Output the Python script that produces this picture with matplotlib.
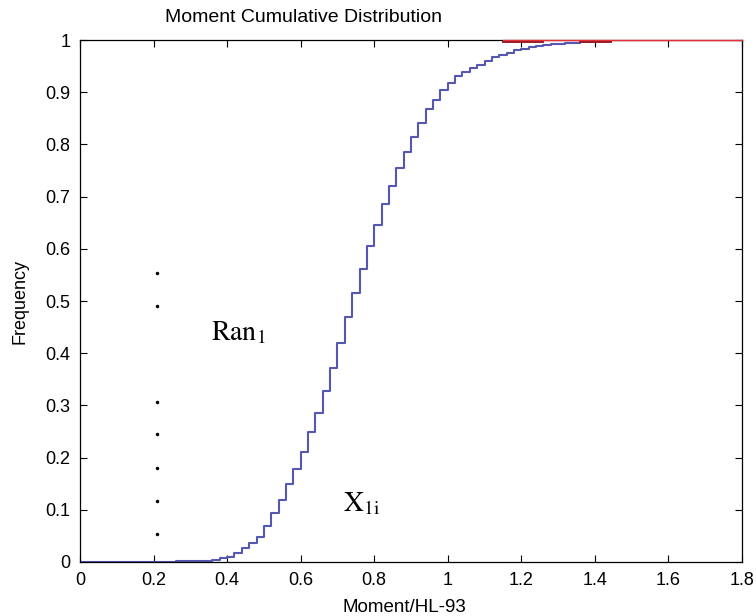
import matplotlib.pyplot as plt

plt.rcParams['font.family'] = ['Liberation Sans', 'DejaVu Sans']
plt.rcParams['mathtext.fontset'] = 'stix'

moment = [0.00, 0.26, 0.36, 0.38, 0.40, 0.42, 0.44, 0.46, 0.48, 0.50,
          0.52, 0.54, 0.56, 0.58, 0.60, 0.62, 0.64, 0.66, 0.68, 0.70,
          0.72, 0.74, 0.76, 0.78, 0.80, 0.82, 0.84, 0.86, 0.88, 0.90,
          0.92, 0.94, 0.96, 0.98, 1.00, 1.02, 1.04, 1.06, 1.08, 1.10,
          1.12, 1.14, 1.16, 1.18, 1.20, 1.22, 1.24, 1.26, 1.28, 1.30,
          1.32, 1.34, 1.36, 1.38, 1.40, 1.42, 1.44, 1.80]
freq = [0.000, 0.002, 0.004, 0.007, 0.010, 0.017, 0.026, 0.037, 0.048, 0.069,
        0.093, 0.119, 0.149, 0.178, 0.210, 0.249, 0.286, 0.328, 0.371, 0.419,
        0.470, 0.516, 0.562, 0.606, 0.646, 0.686, 0.720, 0.754, 0.786, 0.815,
        0.842, 0.867, 0.886, 0.904, 0.918, 0.931, 0.939, 0.946, 0.953, 0.960,
        0.967, 0.971, 0.976, 0.980, 0.983, 0.986, 0.989, 0.990, 0.992, 0.993,
        0.994, 0.995, 0.996, 0.997, 0.998, 0.998, 1.000, 1.000]

# red reference line at the top
red_x = [1.15, 1.80]
red_y = [1.0, 1.0]
dark_x1 = [1.15, 1.26]
dark_x2 = [1.36, 1.445]
dark_y = [0.997, 0.997]

# vertical ellipsis dots
dot_x = [0.21] * 7
dot_y = [0.554, 0.490, 0.307, 0.245, 0.180, 0.117, 0.054]

xticks = [0, 0.2, 0.4, 0.6, 0.8, 1, 1.2, 1.4, 1.6, 1.8]
xtick_labels = ['0', '0.2', '0.4', '0.6', '0.8', '1', '1.2', '1.4', '1.6', '1.8']
yticks = [0, 0.1, 0.2, 0.3, 0.4, 0.5, 0.6, 0.7, 0.8, 0.9, 1]
ytick_labels = ['0', '0.1', '0.2', '0.3', '0.4', '0.5', '0.6', '0.7', '0.8', '0.9', '1']

fig = plt.figure(figsize=(7.56, 6.16), dpi=100)
ax = fig.add_axes([0.1058, 0.0877, 0.8757, 0.8473])

ax.step(moment, freq, where='post', color='#5558b0', lw=1.5)
ax.plot(red_x, red_y, color='#e8323a', lw=1.0, zorder=3, clip_on=False)
ax.plot(dark_x1, dark_y, color='#9a1c28', lw=1.4, zorder=3)
ax.plot(dark_x2, dark_y, color='#9a1c28', lw=1.4, zorder=3)
ax.plot(dot_x, dot_y, 'k.', ms=3)

ax.text(0.357, 0.425, r'$\mathrm{Ran}_{1}$', fontsize=20, va='baseline')
ax.text(0.714, 0.096, r'$\mathrm{X}_{\mathrm{1i}}$', fontsize=20, va='baseline')

ax.set_xlim(0, 1.8)
ax.set_ylim(0, 1)
ax.set_xticks(xticks)
ax.set_yticks(yticks)
ax.set_xticklabels(xtick_labels, fontsize=13)
ax.set_yticklabels(ytick_labels, fontsize=13)
ax.tick_params(direction='in', top=True, right=True, length=5)
ax.tick_params(axis='x', pad=7)
ax.tick_params(axis='y', pad=7)
for s in ax.spines.values():
    s.set_linewidth(0.9)

ax.set_xlabel('Moment/HL-93', fontsize=13.5, labelpad=4)
ax.xaxis.set_label_coords(0.49, -0.071)
ax.set_ylabel('Frequency', fontsize=13, labelpad=12)
fig.text(0.402, 0.972, 'Moment Cumulative Distribution', fontsize=14, ha='center', va='center')

fig.savefig('out.png', dpi=100)
